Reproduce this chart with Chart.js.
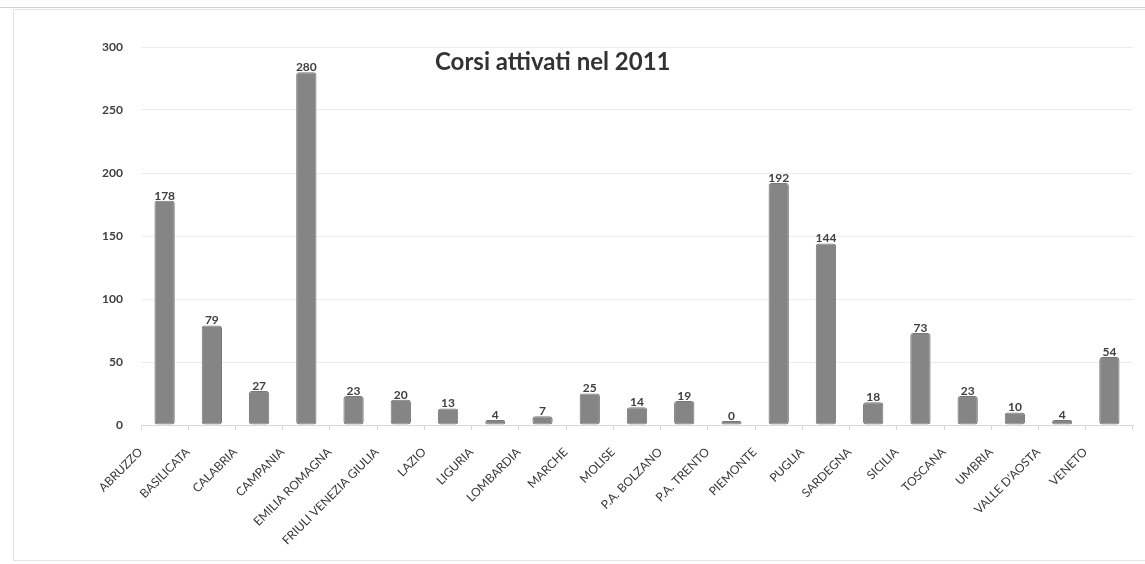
<!DOCTYPE html>
<html>
<head>
<meta charset="utf-8">
<script src="https://cdn.jsdelivr.net/npm/chart.js@4.4.1/dist/chart.umd.min.js"></script>
<style>
  html, body { margin: 0; padding: 0; background: #ffffff; }
  #wrap { position: relative; width: 1145px; height: 564px; overflow: hidden; }
  #frame { position: absolute; left: 13px; top: 9px; width: 1140px; height: 552px; border: 1px solid #e4e4e4; box-sizing: border-box; }
  #topline { position: absolute; left: 0; top: 7px; width: 1145px; height: 1px; background: #d0d0d0; }
  #title { position: absolute; left: 435px; top: 46px; font-family: Lato, "Open Sans", sans-serif; font-weight: bold; font-size: 24px; color: #333333; white-space: nowrap; }
  canvas { position: absolute; left: 0; top: 0; }
</style>
</head>
<body>
<div id="wrap">
  <div id="topline"></div>
  <div id="frame"></div>
  <canvas id="c" width="1145" height="564"></canvas>
  <div id="title">Corsi attivati nel 2011</div>
</div>
<script>
const categories = ["ABRUZZO", "BASILICATA", "CALABRIA", "CAMPANIA", "EMILIA ROMAGNA", "FRIULI VENEZIA GIULIA", "LAZIO", "LIGURIA", "LOMBARDIA", "MARCHE", "MOLISE", "P.A. BOLZANO", "P.A. TRENTO", "PIEMONTE", "PUGLIA", "SARDEGNA", "SICILIA", "TOSCANA", "UMBRIA", "VALLE D'AOSTA", "VENETO"];
const corsi2011 = [178, 79, 27, 280, 23, 20, 13, 4, 7, 25, 14, 19, 0, 192, 144, 18, 73, 23, 10, 4, 54];
const yTicks = [0, 50, 100, 150, 200, 250, 300];

const valueLabels = {
  id: 'valueLabels',
  afterDatasetsDraw(chart) {
    const ctx = chart.ctx;
    const meta = chart.getDatasetMeta(0);
    ctx.save();
    ctx.font = 'bold 12px Lato, "Open Sans", sans-serif';
    ctx.fillStyle = '#404040';
    ctx.textAlign = 'center';
    ctx.textBaseline = 'middle';
    meta.data.forEach((bar, i) => {
      ctx.fillText(String(chart.data.datasets[0].data[i]), bar.x, bar.y - 5);
    });
    ctx.restore();
  }
};

new Chart(document.getElementById('c'), {
  type: 'bar',
  data: {
    labels: categories,
    datasets: [{
      label: 'Corsi attivati nel 2011',
      data: corsi2011,
      backgroundColor: '#858585',
      borderColor: '#787878',
      borderWidth: 1,
      borderRadius: 3,
      borderSkipped: false,
      barPercentage: 0.43,
      categoryPercentage: 1.0,
      minBarLength: 4
    }]
  },
  options: {
    responsive: false,
    animation: false,
    layout: { padding: { top: 47, right: 12, left: 0, bottom: 0 } },
    plugins: {
      legend: { display: false },
      title: { display: false },
      tooltip: { enabled: false }
    },
    scales: {
      x: {
        offset: true,
        grid: { display: true, drawOnChartArea: false, drawTicks: true, tickLength: 5, color: '#d8d8d8', offset: true },
        border: { display: true, color: '#d8d8d8' },
        ticks: {
          autoSkip: false,
          maxRotation: 45,
          minRotation: 45,
          labelOffset: -24,
          padding: 15,
          color: '#383838',
          font: { family: 'Lato, "Open Sans", sans-serif', size: 12 }
        },
        afterFit(scale) { scale.height = 139; }
      },
      y: {
        min: 0,
        max: 300,
        afterBuildTicks(scale) { scale.ticks = yTicks.map(v => ({ value: v })); },
        grid: { color: '#ececec', drawTicks: false },
        border: { display: false },
        ticks: {
          padding: 18,
          color: '#404040',
          font: { family: 'Lato, "Open Sans", sans-serif', size: 12, weight: 'bold' }
        },
        afterFit(scale) { scale.width = 141; }
      }
    }
  },
  plugins: [valueLabels]
});
</script>
</body>
</html>
